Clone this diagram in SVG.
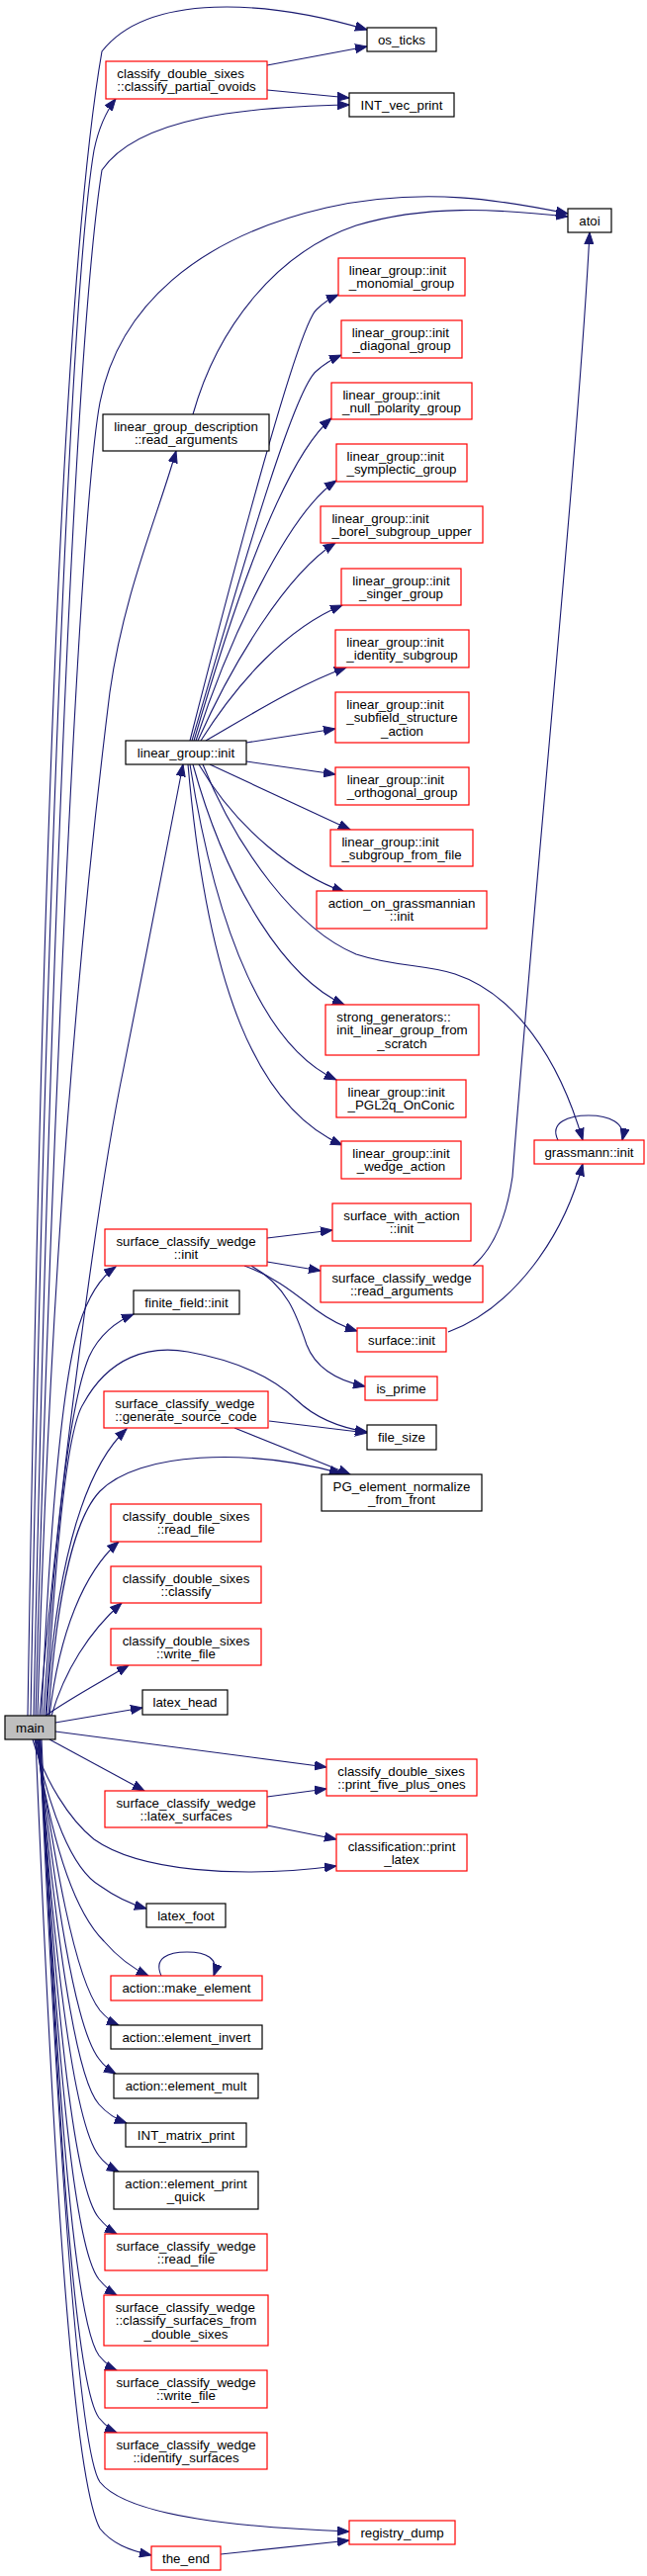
<svg xmlns="http://www.w3.org/2000/svg" width="654" height="2605" viewBox="0 0 654 2605">
<style>
.n rect{fill:#fff;stroke:#000;stroke-width:1.2}
.r rect{fill:#fff;stroke:#f00;stroke-width:1.2}
.m rect{fill:#bfbfbf;stroke:#000;stroke-width:1.2}
text{font-family:"Liberation Sans",Arial,sans-serif;font-size:13.3px;fill:#000}
.c{text-anchor:middle}
.s{text-anchor:start}
#edges path{fill:none;stroke:#191970;stroke-width:1.1;marker-end:url(#a)}
</style>
<defs>
<marker id="a" markerUnits="userSpaceOnUse" markerWidth="13" markerHeight="10" viewBox="0 0 13 10" refX="12" refY="5" orient="auto"><path d="M0,0.5 L12,5 L0,9.5 z" fill="#191970" stroke="#191970"/></marker>
</defs>
<g id="edges">
<path d="M28,1735 C40,1000 60,300 103,52 C150,-8 270,0 371,30"/>
<path d="M31,1735 C44,1000 70,300 95,152 C100,128 107,113 117,100"/>
<path d="M34,1735 C50,1000 75,350 103,172 C140,118 250,108 353,106"/>
<path d="M36,1735 C50,1200 80,520 101,407 C120,310 200,240 330,210 C430,188 510,203 574,216"/>
<path d="M195,419 C220,330 280,255 360,228 C430,207 500,211 574,219"/>
<path d="M38,1735 C50,1300 80,950 111,700 C125,600 160,520 178,456"/>
<path d="M40,1735 C60,1500 100,1200 125,1080 C145,980 170,850 185,773"/>
<path d="M42,1735 C50,1550 62,1400 80,1340 C90,1308 104,1290 117,1281"/>
<path d="M44,1735 C55,1560 70,1420 90,1372 C100,1350 118,1336 135,1329"/>
<path d="M46,1735 C55,1600 65,1450 84,1420 C110,1372 150,1360 190,1367 C240,1376 275,1392 300,1416 C320,1435 345,1444 371,1448"/>
<path d="M47,1735 C55,1600 80,1490 128,1445"/>
<path d="M49,1735 C58,1600 78,1532 101,1508 C140,1468 250,1464 345,1490"/>
<path d="M50,1735 C60,1650 85,1590 120,1559"/>
<path d="M52,1735 C65,1690 90,1650 123,1621"/>
<path d="M46,1735 C70,1718 100,1702 130,1684"/>
<path d="M56,1742 L144,1727"/>
<path d="M56,1751 L330,1787"/>
<path d="M50,1759 L146,1811"/>
<path d="M33,1759 C45,1800 70,1840 95,1860 C140,1892 240,1900 340,1887"/>
<path d="M35,1759 C50,1830 72,1890 101,1907 C115,1917 130,1925 148,1930"/>
<path d="M36,1759 C50,1850 72,1930 105,1963 C118,1978 133,1990 150,1998"/>
<path d="M37,1759 C55,1880 75,2000 101,2033 C107,2040 113,2045 120,2048"/>
<path d="M38,1759 C55,1910 75,2050 100,2082 C105,2089 110,2093 117,2097"/>
<path d="M38,1759 C56,1950 75,2100 100,2128 C108,2137 117,2143 128,2147"/>
<path d="M39,1759 C56,2000 76,2150 100,2180 C105,2187 112,2192 120,2196"/>
<path d="M40,1759 C57,2050 76,2215 100,2243 C106,2250 111,2255 118,2259"/>
<path d="M40,1759 C58,2100 76,2275 100,2305 C106,2312 111,2317 118,2321"/>
<path d="M41,1759 C59,2150 77,2350 100,2382 C106,2389 111,2394 118,2397"/>
<path d="M42,1759 C60,2200 78,2415 100,2445 C106,2452 111,2457 118,2460"/>
<path d="M40,1759 C60,2200 80,2480 101,2510 C130,2546 250,2556 353,2560"/>
<path d="M36,1759 C50,2100 70,2500 101,2557 C113,2572 130,2579 153,2584"/>
<path d="M270,66 L371,47"/>
<path d="M270,91 L353,99"/>
<path d="M192,749 C230,600 300,330 320,313 C326,307 333,302 342,298"/>
<path d="M194,749 C235,610 295,395 320,375 C328,368 336,363 345,359"/>
<path d="M196,749 C225,650 280,470 335,423"/>
<path d="M198,749 C230,650 290,520 340,486"/>
<path d="M200,749 C235,670 290,580 339,549"/>
<path d="M203,749 C240,690 290,635 346,612"/>
<path d="M208,749 C250,725 300,693 350,675"/>
<path d="M249,751 L339,737"/>
<path d="M249,770 L339,783"/>
<path d="M212,773 L354,839"/>
<path d="M201,773 C240,840 300,885 348,902"/>
<path d="M195,773 C230,900 290,990 348,1016"/>
<path d="M192,773 C220,950 270,1060 340,1092"/>
<path d="M190,773 C210,1000 260,1120 346,1158"/>
<path d="M205,773 C240,860 300,940 360,965 C400,978 430,975 460,985 C520,1005 565,1070 589,1153"/>
<path d="M564,1153 C555,1135 575,1128 595,1128 C615,1128 633,1135 629,1153"/>
<path d="M270,1252 L336,1244"/>
<path d="M270,1276 L324,1285"/>
<path d="M247,1280 C280,1292 300,1310 320,1325 C335,1336 348,1342 361,1346"/>
<path d="M254,1280 C290,1300 300,1330 310,1360 C320,1386 345,1397 369,1402"/>
<path d="M478,1280 C500,1262 512,1230 518,1190 C540,900 585,450 596,235"/>
<path d="M453,1347 C520,1322 570,1250 589,1177"/>
<path d="M272,1437 L371,1449"/>
<path d="M237,1444 L354,1491"/>
<path d="M270,1817 L330,1809"/>
<path d="M270,1846 L340,1860"/>
<path d="M163,1998 C155,1980 170,1974 189,1974 C208,1974 222,1980 216,1998"/>
<path d="M223,2583 L353,2569"/>
</g>
<g id="main" class="m"><rect x="5" y="1735" width="51" height="24"/><text class="c" x="30.5" y="1751.7">main</text></g>
<g id="os_ticks" class="n"><rect x="371" y="28" width="70" height="24"/><text class="c" x="406" y="44.7">os_ticks</text></g>
<g id="cpo" class="r"><rect x="107" y="62" width="163" height="38"/><text class="s" x="118.3" y="79">classify_double_sixes</text><text class="c" x="188.5" y="92.3">::classify_partial_ovoids</text></g>
<g id="ivp" class="n"><rect x="353" y="94" width="106" height="24"/><text class="c" x="406" y="110.7">INT_vec_print</text></g>
<g id="atoi" class="n"><rect x="574" y="211" width="44" height="24"/><text class="c" x="596" y="227.7">atoi</text></g>
<g id="mono" class="r"><rect x="342" y="261" width="128" height="38"/><text class="s" x="352.8" y="278">linear_group::init</text><text class="c" x="406" y="291.3">_monomial_group</text></g>
<g id="diag" class="r"><rect x="345" y="324" width="122" height="38"/><text class="s" x="355.7" y="341">linear_group::init</text><text class="c" x="406" y="354.3">_diagonal_group</text></g>
<g id="nullp" class="r"><rect x="335" y="387" width="142" height="37"/><text class="s" x="346.4" y="403.5">linear_group::init</text><text class="c" x="406" y="416.8">_null_polarity_group</text></g>
<g id="lgd" class="n"><rect x="104" y="419" width="168" height="37"/><text class="c" x="188" y="435.5">linear_group_description</text><text class="c" x="188" y="448.8">::read_arguments</text></g>
<g id="symp" class="r"><rect x="340" y="449" width="132" height="38"/><text class="s" x="350.6" y="466">linear_group::init</text><text class="c" x="406" y="479.3">_symplectic_group</text></g>
<g id="borel" class="r"><rect x="324" y="512" width="164" height="37"/><text class="s" x="335.4" y="528.5">linear_group::init</text><text class="c" x="406" y="541.8">_borel_subgroup_upper</text></g>
<g id="singer" class="r"><rect x="345" y="575" width="121" height="37"/><text class="s" x="356.3" y="591.5">linear_group::init</text><text class="c" x="405.5" y="604.8">_singer_group</text></g>
<g id="ident" class="r"><rect x="339" y="637" width="135" height="38"/><text class="s" x="350.3" y="654">linear_group::init</text><text class="c" x="406.5" y="667.3">_identity_subgroup</text></g>
<g id="subf" class="r"><rect x="339" y="700" width="135" height="51"/><text class="s" x="350.3" y="716.9">linear_group::init</text><text class="s" x="350.3" y="730.2">_subfield_structure</text><text class="c" x="406.5" y="743.5">_action</text></g>
<g id="lgi" class="n"><rect x="127" y="749" width="122" height="24"/><text class="c" x="188" y="765.7">linear_group::init</text></g>
<g id="orth" class="r"><rect x="339" y="776" width="135" height="38"/><text class="s" x="350.7" y="793">linear_group::init</text><text class="c" x="406.5" y="806.3">_orthogonal_group</text></g>
<g id="sgff" class="r"><rect x="334" y="839" width="144" height="37"/><text class="s" x="345.4" y="855.5">linear_group::init</text><text class="c" x="406" y="868.8">_subgroup_from_file</text></g>
<g id="aog" class="r"><rect x="320" y="901" width="172" height="38"/><text class="c" x="406" y="918">action_on_grassmannian</text><text class="c" x="406" y="931.3">::init</text></g>
<g id="sg" class="r"><rect x="329" y="1016" width="155" height="51"/><text class="s" x="340.3" y="1032.9">strong_generators::</text><text class="s" x="340.3" y="1046.2">init_linear_group_from</text><text class="c" x="406.5" y="1059.5">_scratch</text></g>
<g id="pgl" class="r"><rect x="340" y="1092" width="131" height="38"/><text class="s" x="351.5" y="1109">linear_group::init</text><text class="c" x="405.5" y="1122.3">_PGL2q_OnConic</text></g>
<g id="wedge" class="r"><rect x="345" y="1154" width="121" height="38"/><text class="s" x="356.3" y="1171">linear_group::init</text><text class="c" x="405.5" y="1184.3">_wedge_action</text></g>
<g id="gi" class="r"><rect x="540" y="1153" width="111" height="24"/><text class="c" x="595.5" y="1169.7">grassmann::init</text></g>
<g id="swa" class="r"><rect x="336" y="1217" width="140" height="38"/><text class="c" x="406" y="1234">surface_with_action</text><text class="c" x="406" y="1247.3">::init</text></g>
<g id="scwi" class="r"><rect x="106" y="1243" width="164" height="37"/><text class="c" x="188" y="1259.5">surface_classify_wedge</text><text class="c" x="188" y="1272.8">::init</text></g>
<g id="scwra" class="r"><rect x="324" y="1280" width="164" height="37"/><text class="c" x="406" y="1296.5">surface_classify_wedge</text><text class="c" x="406" y="1309.8">::read_arguments</text></g>
<g id="ffi" class="n"><rect x="135" y="1305" width="107" height="24"/><text class="c" x="188.5" y="1321.7">finite_field::init</text></g>
<g id="si" class="r"><rect x="361" y="1343" width="90" height="24"/><text class="c" x="406" y="1359.7">surface::init</text></g>
<g id="isp" class="r"><rect x="369" y="1392" width="73" height="24"/><text class="c" x="405.5" y="1408.7">is_prime</text></g>
<g id="scwgsc" class="r"><rect x="105" y="1407" width="166" height="37"/><text class="s" x="116.3" y="1423.5">surface_classify_wedge</text><text class="c" x="188" y="1436.8">::generate_source_code</text></g>
<g id="fs" class="n"><rect x="371" y="1441" width="70" height="25"/><text class="c" x="406" y="1458.2">file_size</text></g>
<g id="pg" class="n"><rect x="325" y="1491" width="162" height="37"/><text class="c" x="406" y="1507.5">PG_element_normalize</text><text class="c" x="406" y="1520.8">_from_front</text></g>
<g id="cdsrf" class="r"><rect x="112" y="1521" width="152" height="38"/><text class="c" x="188" y="1538">classify_double_sixes</text><text class="c" x="188" y="1551.3">::read_file</text></g>
<g id="cdsc" class="r"><rect x="112" y="1584" width="152" height="37"/><text class="c" x="188" y="1600.5">classify_double_sixes</text><text class="c" x="188" y="1613.8">::classify</text></g>
<g id="cdswf" class="r"><rect x="112" y="1647" width="152" height="37"/><text class="c" x="188" y="1663.5">classify_double_sixes</text><text class="c" x="188" y="1676.8">::write_file</text></g>
<g id="lh" class="n"><rect x="144" y="1709" width="86" height="25"/><text class="c" x="187" y="1726.2">latex_head</text></g>
<g id="p5" class="r"><rect x="330" y="1779" width="152" height="37"/><text class="s" x="341.3" y="1795.5">classify_double_sixes</text><text class="c" x="406" y="1808.8">::print_five_plus_ones</text></g>
<g id="scwls" class="r"><rect x="106" y="1811" width="164" height="37"/><text class="c" x="188" y="1827.5">surface_classify_wedge</text><text class="c" x="188" y="1840.8">::latex_surfaces</text></g>
<g id="cpl" class="r"><rect x="340" y="1855" width="132" height="37"/><text class="s" x="351.7" y="1871.5">classification::print</text><text class="c" x="406" y="1884.8">_latex</text></g>
<g id="lf" class="n"><rect x="148" y="1925" width="80" height="24"/><text class="c" x="188" y="1941.7">latex_foot</text></g>
<g id="ame" class="r"><rect x="112" y="1998" width="153" height="25"/><text class="c" x="188.5" y="2015.2">action::make_element</text></g>
<g id="aei" class="n"><rect x="112" y="2048" width="153" height="24"/><text class="c" x="188.5" y="2064.7">action::element_invert</text></g>
<g id="aem" class="n"><rect x="115" y="2097" width="146" height="25"/><text class="c" x="188" y="2114.2">action::element_mult</text></g>
<g id="imp" class="n"><rect x="127" y="2147" width="122" height="24"/><text class="c" x="188" y="2163.7">INT_matrix_print</text></g>
<g id="aepq" class="n"><rect x="115" y="2196" width="146" height="38"/><text class="s" x="126.3" y="2213">action::element_print</text><text class="c" x="188" y="2226.3">_quick</text></g>
<g id="scwrf" class="r"><rect x="106" y="2259" width="164" height="37"/><text class="c" x="188" y="2275.5">surface_classify_wedge</text><text class="c" x="188" y="2288.8">::read_file</text></g>
<g id="scwcs" class="r"><rect x="105" y="2321" width="166" height="51"/><text class="s" x="116.7" y="2337.9">surface_classify_wedge</text><text class="s" x="116.7" y="2351.2">::classify_surfaces_from</text><text class="c" x="188" y="2364.5">_double_sixes</text></g>
<g id="scwwf" class="r"><rect x="106" y="2397" width="164" height="38"/><text class="c" x="188" y="2414">surface_classify_wedge</text><text class="c" x="188" y="2427.3">::write_file</text></g>
<g id="scwis" class="r"><rect x="106" y="2460" width="164" height="37"/><text class="c" x="188" y="2476.5">surface_classify_wedge</text><text class="c" x="188" y="2489.8">::identify_surfaces</text></g>
<g id="rd" class="r"><rect x="353" y="2549" width="107" height="24"/><text class="c" x="406.5" y="2565.7">registry_dump</text></g>
<g id="te" class="r"><rect x="153" y="2575" width="70" height="24"/><text class="c" x="188" y="2591.7">the_end</text></g>
</svg>
